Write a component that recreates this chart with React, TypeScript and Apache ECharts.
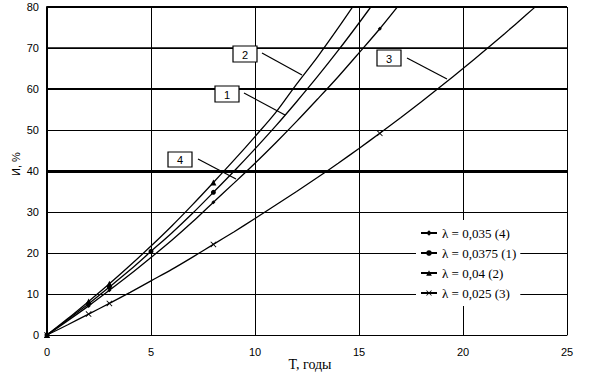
import React, { useEffect, useRef } from "react";
import * as echarts from "echarts";

// Years (T) and read-off values (И, %) per curve
const years = [0, 1, 2, 3, 4, 5, 6, 7, 8, 9, 10, 11, 12, 13, 14, 15, 16, 17, 18, 19, 20, 21, 22, 23, 24];
const lambda035 = [0, 3.5, 7.1, 10.9, 14.8, 18.9, 23.1, 27.6, 32.4, 37.1, 41.9, 46.9, 52.1, 57.5, 63.0, 68.8, 74.7, 81.0];
const lambda0375 = [0, 3.8, 7.6, 11.7, 15.9, 20.4, 24.9, 29.7, 34.8, 40.0, 45.4, 51.0, 56.9, 63.0, 69.4, 76.1, 83.0];
const lambda040 = [0, 4.0, 8.2, 12.5, 17.0, 21.7, 26.6, 31.8, 37.2, 42.7, 48.4, 54.3, 61.2, 67.8, 74.9, 82.3];
const lambda025 = [0, 2.5, 5.1, 7.7, 10.4, 13.2, 16.0, 19.0, 22.1, 25.2, 28.4, 31.7, 35.0, 38.4, 41.9, 45.5, 49.2, 53.0, 56.9, 60.9, 65.0, 69.2, 73.5, 77.9, 82.4];

const marks035 = [0, 2, 3, 8, 16];
const marks0375 = [0, 2, 3, 5, 8];
const marks040 = [0, 2, 3, 8];
const marks025 = [0, 2, 3, 8, 16];

const seriesNames = ["λ = 0,035 (4)", "λ = 0,0375 (1)", "λ = 0,04 (2)", "λ = 0,025 (3)"];
const xTicks = { min: 0, max: 25, interval: 5 };
const yTicks = { min: 0, max: 80, interval: 10 };
const xAxisTitle = "T, годы";
const yAxisTitle = "И, %";

const curveLabels = [
  { text: "2", box: [233, 46, 24, 16], leader: [262, 53, 302, 75] },
  { text: "1", box: [215, 86, 24, 16], leader: [244, 93, 285, 115] },
  { text: "3", box: [377, 50, 24, 16], leader: [407, 58, 447, 79] },
  { text: "4", box: [168, 152, 24, 15], leader: [198, 159, 236, 179] },
];

const crossPath = "path://M0,1L1,0L5,4L9,0L10,1L6,5L10,9L9,10L5,6L1,10L0,9L4,5Z";

function buildData(vals: number[], marks: number[]) {
  return vals.map((v, i) => {
    const t = years[i];
    const item: any = { value: [t, v] };
    if (!marks.includes(t)) item.symbol = "none";
    return item;
  });
}

export default function App() {
  const ref = useRef<HTMLDivElement>(null);
  useEffect(() => {
    if (!ref.current) return;
    const chart = echarts.init(ref.current, undefined, { renderer: "svg" });
    const lineStyle = { color: "#000", width: 1.3 };
    const common = {
      type: "line",
      smooth: 0.3,
      showSymbol: true,
      showAllSymbol: true,
      lineStyle,
      itemStyle: { color: "#000" },
      z: 3,
    };
    const graphics: any[] = [];
    curveLabels.forEach((l) => {
      const [x1, y1, x2, y2] = l.leader;
      graphics.push({
        type: "line",
        z: 100,
        shape: { x1, y1, x2, y2 },
        style: { stroke: "#000", lineWidth: 1.2 },
      });
      const [bx, by, bw, bh] = l.box;
      graphics.push({
        type: "rect",
        z: 100,
        shape: { x: bx, y: by, width: bw, height: bh },
        style: { fill: "#fff", stroke: "#000", lineWidth: 1.2 },
      });
      graphics.push({
        type: "text",
        z: 101,
        x: bx + bw / 2,
        y: by + bh / 2 + 0.5,
        style: {
          text: l.text,
          fontSize: 11,
          fontFamily: "Liberation Sans",
          fill: "#000",
          align: "center",
          verticalAlign: "middle",
        },
      });
    });
    graphics.push({
      type: "text",
      z: 100,
      x: 16,
      y: 164,
      rotation: Math.PI / 2,
      style: {
        text: yAxisTitle,
        fontSize: 11,
        fontFamily: "Liberation Sans",
        fill: "#000",
        align: "center",
        verticalAlign: "middle",
      },
    });
    graphics.push({
      type: "text",
      z: 100,
      x: 310,
      y: 364,
      style: {
        text: xAxisTitle,
        fontSize: 14,
        fontFamily: "Liberation Serif",
        fill: "#000",
        align: "center",
        verticalAlign: "middle",
      },
    });

    chart.setOption({
      animation: false,
      backgroundColor: "#fff",
      grid: { left: 47, right: 23, top: 7, bottom: 38, outerBoundsMode: "none", containLabel: false },
      xAxis: {
        type: "value",
        ...xTicks,
        axisLine: { show: true, lineStyle: { color: "#000", width: 1 } },
        axisTick: { show: false },
        axisLabel: { color: "#000", fontFamily: "Liberation Sans", fontSize: 11, margin: 11 },
        splitLine: { show: true, lineStyle: { color: "#000", width: 1 } },
      },
      yAxis: {
        type: "value",
        ...yTicks,
        axisLine: { show: true, lineStyle: { color: "#000", width: 2 } },
        axisTick: { show: false },
        axisLabel: { color: "#000", fontFamily: "Liberation Sans", fontSize: 11, margin: 8 },
        splitLine: { show: true, lineStyle: { color: "#000", width: 1 } },
      },
      legend: {
        orient: "vertical",
        left: 416,
        top: 220,
        padding: [6, 4, 6, 4],
        backgroundColor: "#fff",
        itemWidth: 16,
        itemHeight: 7,
        itemGap: 6,
        data: seriesNames,
        textStyle: { fontFamily: "Liberation Serif", fontSize: 13, color: "#000", lineHeight: 14 },
      },
      graphic: graphics,
      series: [
        {
          ...common,
          name: seriesNames[0],
          symbol: "diamond",
          symbolSize: 4,
          data: buildData(lambda035, marks035),
        },
        {
          ...common,
          name: seriesNames[1],
          symbol: "circle",
          symbolSize: 5,
          data: buildData(lambda0375, marks0375),
        },
        {
          ...common,
          name: seriesNames[2],
          symbol: "triangle",
          symbolSize: 6,
          data: buildData(lambda040, marks040),
        },
        {
          ...common,
          name: seriesNames[3],
          symbol: crossPath,
          symbolSize: 6,
          data: buildData(lambda025, marks025),
          markLine: {
            silent: true,
            symbol: ["none", "none"],
            label: { show: false },
            lineStyle: { color: "#000", type: "solid" },
            data: [
              { yAxis: 40, lineStyle: { width: 3, color: "#000", type: "solid" } },
              { yAxis: 60, lineStyle: { width: 2, color: "#000", type: "solid" } },
              { yAxis: 70, lineStyle: { width: 1.6, color: "#000", type: "solid" } },
              { yAxis: 80, lineStyle: { width: 2.2, color: "#000", type: "solid" } },
            ],
          },
        },
      ],
    });
    return () => chart.dispose();
  }, []);
  return (
    <div
      ref={ref}
      style={{ position: "fixed", left: 0, top: 0, width: 590, height: 373, background: "#fff" }}
    />
  );
}
